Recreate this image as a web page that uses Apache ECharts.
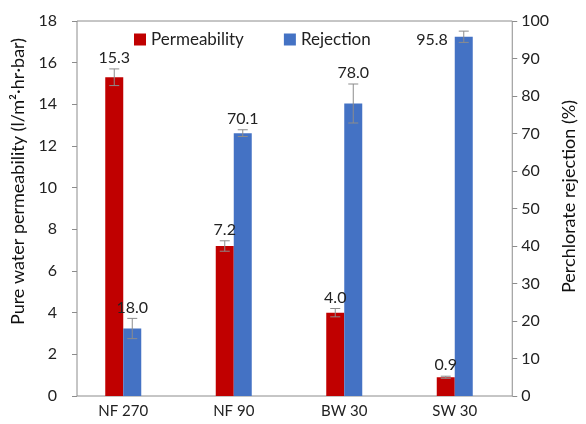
<!DOCTYPE html>
<html>
<head>
<meta charset="utf-8">
<script src="https://cdn.jsdelivr.net/npm/echarts@6/dist/echarts.min.js"></script>
<style>
  html, body { margin: 0; padding: 0; background: #fff; }
  #chart { width: 586px; height: 424px; }
</style>
</head>
<body>
<div id="chart"></div>
<script>
let categories      = ['NF 270', 'NF 90', 'BW 30', 'SW 30'],
    permeability    = [15.3, 7.2, 4.0, 0.9],
    permeabilityErr = [0.4, 0.25, 0.2, 0.05],
    rejection       = [18.0, 70.1, 78.0, 95.8],
    rejectionErr    = [2.7, 0.9, 5.2, 1.5];

let font = 'Lato',
    gray = '#8c8c8c',
    barW = 18;

let chart = echarts.init(document.getElementById('chart'));

// error bars + value labels, drawn on the bar grid
function errorRender(dx) {
  return function(params, api) {
    let i = api.value(0), v = api.value(1), e = api.value(2);
    let top = api.coord([i, v + e]),
        bot = api.coord([i, v - e]),
        mid = api.coord([i, v]);
    let x = mid[0] + dx;
    let st = {stroke: gray, lineWidth: 1};
    let label;
    if(top[1] - 24 < params.coordSys.y) {
      label = {type: 'text', style: {text: v.toFixed(1), x: x - barW / 2 - 7, y: mid[1] + 3,
        align: 'right', verticalAlign: 'middle', fill: '#222', fontSize: 16, fontFamily: font}};
    } else {
      label = {type: 'text', style: {text: v.toFixed(1), x: x, y: top[1] - 3,
        align: 'center', verticalAlign: 'bottom', fill: '#222', fontSize: 16, fontFamily: font}};
    }
    return {
      type: 'group',
      children: [
        {type: 'line', shape: {x1: x, y1: top[1], x2: x, y2: bot[1]}, style: st},
        {type: 'line', shape: {x1: x - 5, y1: top[1], x2: x + 5, y2: top[1]}, style: st},
        {type: 'line', shape: {x1: x - 5, y1: bot[1], x2: x + 5, y2: bot[1]}, style: st},
        label
      ]
    };
  };
}

function errData(vals, errs) {
  let d = [];
  for(let j = 0; j < vals.length; j++) d.push([j, vals[j], errs[j]]);
  return d;
}

let hiddenY = {type: 'value', show: false, gridIndex: 1};

let option = {
  animation: false,
  textStyle: {fontFamily: font},
  legend: {
    left: 134, top: 31,
    icon: 'rect',
    itemWidth: 12, itemHeight: 12, itemGap: 40,
    padding: 0,
    textStyle: {fontSize: 17, color: '#222', fontFamily: font},
    data: ['Permeability', 'Rejection']
  },
  grid: [
    {left: 77, right: 67, top: 21, bottom: 28, show: true, borderColor: gray, borderWidth: 1},
    {left: 68, right: 76, top: 21, bottom: 28}
  ],
  xAxis: [
    {type: 'value', gridIndex: 0, show: false},
    {
      type: 'category', gridIndex: 1, data: categories,
      axisLine: {show: false}, axisTick: {show: false},
      axisLabel: {margin: 8, fontSize: 15, color: '#222', fontFamily: font}
    }
  ],
  yAxis: [
    {
      type: 'value', gridIndex: 0, min: 0, max: 18, interval: 2,
      name: 'Pure water permeability (l/m²·hr·bar)',
      nameLocation: 'middle', nameRotate: 90, nameGap: 46,
      nameTextStyle: {fontSize: 18, color: '#111', fontFamily: font, padding: [0, 0, 0, 54]},
      axisLine: {show: false},
      axisTick: {show: true, length: 5, lineStyle: {color: gray}},
      axisLabel: {margin: 20, fontSize: 16, color: '#222', fontFamily: font},
      splitLine: {show: false}
    },
    {
      type: 'value', gridIndex: 0, position: 'right', min: 0, max: 100, interval: 10,
      name: 'Perchlorate rejection (%)',
      nameLocation: 'middle', nameRotate: 90, nameGap: 44,
      nameTextStyle: {fontSize: 18, color: '#111', fontFamily: font, padding: [0, 0, 0, 24]},
      axisLine: {show: false},
      axisTick: {show: true, length: 5, lineStyle: {color: gray}},
      axisLabel: {margin: 9, fontSize: 16, color: '#222', fontFamily: font},
      splitLine: {show: false}
    },
    Object.assign({min: 0, max: 18}, hiddenY),
    Object.assign({min: 0, max: 100}, hiddenY)
  ],
  series: [
    {
      name: 'Permeability', type: 'bar', xAxisIndex: 1, yAxisIndex: 2,
      barWidth: barW, barGap: '0%',
      itemStyle: {color: '#c00000'},
      data: permeability
    },
    {
      name: 'Rejection', type: 'bar', xAxisIndex: 1, yAxisIndex: 3,
      barWidth: barW, barGap: '0%',
      itemStyle: {color: '#4472c4'},
      data: rejection
    },
    {
      type: 'custom', xAxisIndex: 1, yAxisIndex: 2, z: 5,
      renderItem: errorRender(-barW / 2),
      data: errData(permeability, permeabilityErr)
    },
    {
      type: 'custom', xAxisIndex: 1, yAxisIndex: 3, z: 5,
      renderItem: errorRender(barW / 2),
      data: errData(rejection, rejectionErr)
    }
  ]
};

chart.setOption(option);
</script>
</body>
</html>
